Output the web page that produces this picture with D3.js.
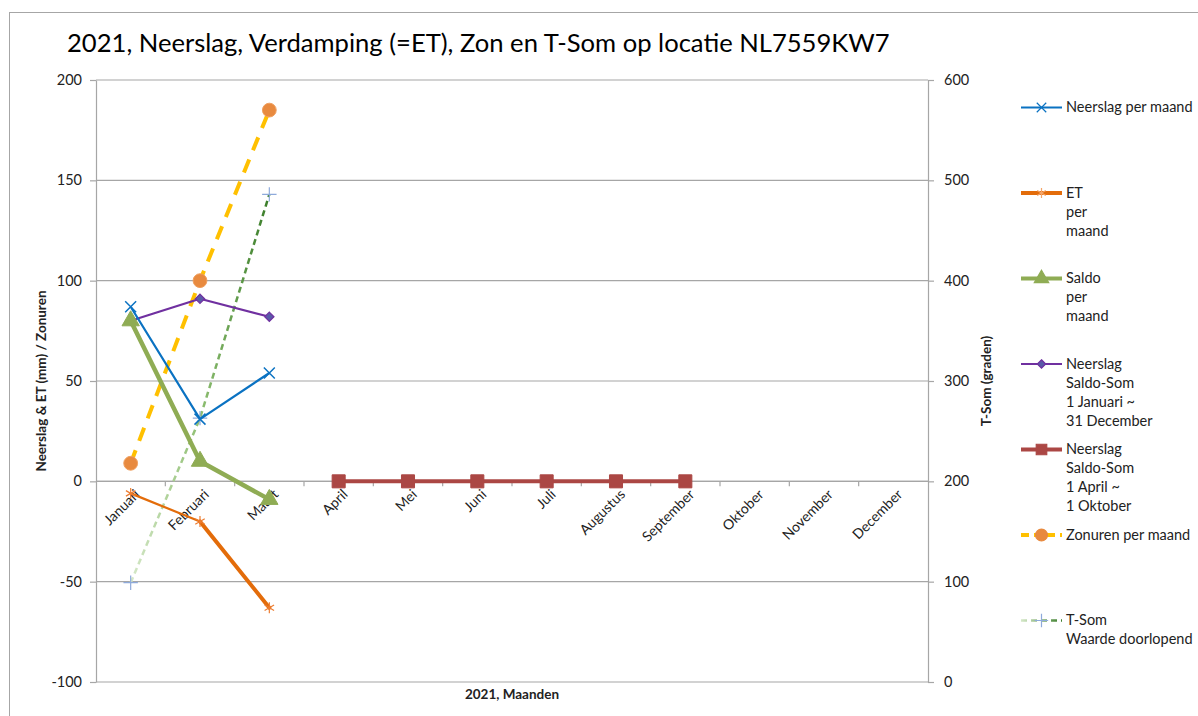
<!DOCTYPE html>
<html>
<head>
<meta charset="utf-8">
<script src="https://cdn.jsdelivr.net/npm/d3@7"></script>
<style>
  body { margin: 0; background: #fff; }
  text { font-family: Lato, "Liberation Sans", sans-serif; fill: #222; }
</style>
</head>
<body>
<div id="chart"></div>
<script>
// data
var months = ["Januari", "Februari", "Maart", "April", "Mei", "Juni", "Juli",
  "Augustus", "September", "Oktober", "November", "December"];
var neerslag = [87, 31, 54];
var et = [-6, -20, -63];
var saldo = [80, 10, -9];
var saldoSomJaar = [80, 91, 82];
var saldoSomZomer = [null, null, null, 0, 0, 0, 0, 0, 0];
var zonuren = [9, 100, 185];
var tSom = [99, 263, 486];
var leftTicks = [-100, -50, 0, 50, 100, 150, 200];
var rightTicks = [0, 100, 200, 300, 400, 500, 600];

var svgWidth = 1198, svgHeight = 716;
var margin = { top: 80, right: 270, bottom: 34, left: 96 };
var chartWidth = svgWidth - margin.left - margin.right;
var chartHeight = svgHeight - margin.top - margin.bottom;

var svg = d3.select("#chart").append("svg")
  .attr("width", svgWidth)
  .attr("height", svgHeight);

// outer frame
svg.append("rect")
  .attr("x", 9.5).attr("y", 12.5)
  .attr("width", 1200).attr("height", 720)
  .attr("fill", "none").attr("stroke", "#a6a6a6");

svg.append("text")
  .attr("x", 67).attr("y", 52)
  .style("font-size", "25.6px")
  .style("fill", "#000")
  .text("2021, Neerslag, Verdamping (=ET), Zon en T-Som op locatie NL7559KW7");

var chartGroup = svg.append("g")
  .attr("transform", `translate(${margin.left}, ${margin.top})`);

var x = d3.scaleBand().domain(months).range([0, chartWidth]);
var cx = function(i) { return x(months[i]) + x.bandwidth() / 2; };
var yLeft = d3.scaleLinear().domain([-100, 200]).range([chartHeight, 0]);
var yRight = d3.scaleLinear().domain([0, 600]).range([chartHeight, 0]);

// gridlines
chartGroup.selectAll(".grid").data(leftTicks).enter().append("line")
  .attr("x1", 0).attr("x2", chartWidth)
  .attr("y1", d => yLeft(d)).attr("y2", d => yLeft(d))
  .attr("stroke", "#a6a6a6").attr("stroke-width", 1.2);

// left axis
var leftAxis = d3.axisLeft(yLeft).tickValues(leftTicks).tickFormat(d => String(d))
  .tickSize(6).tickSizeOuter(0).tickPadding(8);
var gl = chartGroup.append("g").call(leftAxis);
gl.selectAll("path, line").attr("stroke", "#a6a6a6").attr("stroke-width", 1.2);
gl.selectAll("text").style("font-size", "14.5px").style("font-family", "Lato, sans-serif").attr("fill", "#222");

// right axis
var rightAxis = d3.axisRight(yRight).tickValues(rightTicks).tickFormat(d => String(d))
  .tickSize(6).tickSizeOuter(0).tickPadding(10);
var gr = chartGroup.append("g").attr("transform", `translate(${chartWidth}, 0)`).call(rightAxis);
gr.selectAll("path, line").attr("stroke", "#a6a6a6").attr("stroke-width", 1.2);
gr.selectAll("text").style("font-size", "14.5px").style("font-family", "Lato, sans-serif").attr("fill", "#222");

// category axis at zero
var y0 = yLeft(0);
chartGroup.append("line")
  .attr("x1", 0).attr("x2", chartWidth).attr("y1", y0).attr("y2", y0)
  .attr("stroke", "#a6a6a6").attr("stroke-width", 1.2);
chartGroup.selectAll(".xtick").data(months.slice(1)).enter().append("line")
  .attr("x1", d => x(d)).attr("x2", d => x(d))
  .attr("y1", y0).attr("y2", y0 + 5)
  .attr("stroke", "#a6a6a6").attr("stroke-width", 1.2);
chartGroup.selectAll(".xlabel").data(months).enter().append("text")
  .attr("transform", (d, i) => `translate(${cx(i) + 4}, ${y0 + 8}) rotate(-45)`)
  .attr("text-anchor", "end")
  .attr("dy", "0.6em")
  .style("font-size", "14px")
  .text(d => d);

// axis titles
svg.append("text")
  .attr("transform", `translate(46, ${margin.top + chartHeight / 2}) rotate(-90)`)
  .attr("text-anchor", "middle")
  .style("font-size", "13.5px").style("font-weight", "bold")
  .text("Neerslag & ET (mm) / Zonuren");
svg.append("text")
  .attr("transform", `translate(991, ${margin.top + chartHeight / 2}) rotate(-90)`)
  .attr("text-anchor", "middle")
  .style("font-size", "13.5px").style("font-weight", "bold")
  .text("T-Som (graden)");
svg.append("text")
  .attr("x", margin.left + chartWidth / 2).attr("y", 699)
  .attr("text-anchor", "middle")
  .style("font-size", "13.5px").style("font-weight", "bold")
  .text("2021, Maanden");

// gradient for T-Som
var defs = svg.append("defs");
var grad = defs.append("linearGradient").attr("id", "tsomGrad")
  .attr("gradientUnits", "userSpaceOnUse")
  .attr("x1", cx(0)).attr("x2", cx(tSom.length - 1)).attr("y1", 0).attr("y2", 0);
grad.append("stop").attr("offset", "0%").attr("stop-color", "#d5e8c8");
grad.append("stop").attr("offset", "50%").attr("stop-color", "#8fbf72");
grad.append("stop").attr("offset", "100%").attr("stop-color", "#3a7d2a");
var legGrad = defs.append("linearGradient").attr("id", "tsomLeg")
  .attr("gradientUnits", "userSpaceOnUse")
  .attr("x1", 0).attr("x2", 41).attr("y1", 0).attr("y2", 0);
legGrad.append("stop").attr("offset", "0%").attr("stop-color", "#d5e8c8");
legGrad.append("stop").attr("offset", "100%").attr("stop-color", "#3a7d2a");

function pts(values) {
  return values.map((v, i) => [i, v]).filter(d => d[1] !== null);
}
function drawLine(values, yScale, stroke, width, dash) {
  var line = d3.line().x(d => cx(d[0])).y(d => yScale(d[1]));
  chartGroup.append("path")
    .datum(pts(values))
    .attr("d", line)
    .attr("fill", "none")
    .attr("stroke", stroke)
    .attr("stroke-width", width)
    .attr("stroke-linejoin", "round")
    .attr("stroke-dasharray", dash || null);
}
function drawMarkers(values, yScale, symbolType, size, fill, stroke, sw) {
  chartGroup.selectAll(null).data(pts(values)).enter().append("path")
    .attr("transform", d => `translate(${cx(d[0])}, ${yScale(d[1])})`)
    .attr("d", d3.symbol().type(symbolType).size(size))
    .attr("fill", fill)
    .attr("stroke", stroke)
    .attr("stroke-width", sw);
}

// asterisk symbol for ET
var asterisk = {
  draw: function(context, size) {
    var r = Math.sqrt(size) / 2;
    for (var k = 0; k < 3; k++) {
      var a = Math.PI / 2 + k * Math.PI / 3;
      context.moveTo(r * Math.cos(a), r * Math.sin(a));
      context.lineTo(-r * Math.cos(a), -r * Math.sin(a));
    }
  }
};
var diamond = d3.symbolDiamond2 || d3.symbolDiamond;
var plus = d3.symbolPlus || d3.symbolCross2;

// T-Som (right axis)
drawLine(tSom, yRight, "url(#tsomGrad)", 2.5, "6,4");
drawMarkers(tSom, yRight, plus, 70, "none", "#8eaadb", 1.2);

// Zonuren
drawLine(zonuren, yLeft, "#ffc000", 4, "14,10");
drawMarkers(zonuren, yLeft, d3.symbolCircle, 150, "#e88a3f", "#f0a060", 1);

// Neerslag Saldo-Som 1 Jan ~ 31 Dec
drawLine(saldoSomJaar, yLeft, "#7030a0", 2.2);
drawMarkers(saldoSomJaar, yLeft, diamond, 55, "#5a5aa8", "#7030a0", 1.2);

// Saldo
drawLine(saldo, yLeft, "#8fac54", 4.5);
drawMarkers(saldo, yLeft, d3.symbolTriangle, 130, "#8fac54", "#8fac54", 1);

// Neerslag
drawLine(neerslag, yLeft, "#0a72c2", 2.2);
drawMarkers(neerslag, yLeft, d3.symbolX, 80, "none", "#0a72c2", 1.5);

// ET: thin first segment, thick second
var etWidths = [2.2, 4];
d3.range(et.length - 1).forEach(function(i) {
  chartGroup.append("line")
    .attr("x1", cx(i)).attr("y1", yLeft(et[i]))
    .attr("x2", cx(i + 1)).attr("y2", yLeft(et[i + 1]))
    .attr("stroke", "#e36c0a").attr("stroke-width", etWidths[i])
    .attr("stroke-linecap", "round");
});
drawMarkers(et, yLeft, asterisk, 120, "none", "#ed7d31", 1.2);

// Neerslag Saldo-Som 1 Apr ~ 1 Okt
drawLine(saldoSomZomer, yLeft, "#ab4744", 4);
drawMarkers(saldoSomZomer, yLeft, d3.symbolSquare, 170, "#ab4744", "#ab4744", 1);

// legend
var legendItems = [
  { lines: ["Neerslag per maand"], stroke: "#0a72c2", width: 2.2, symbol: d3.symbolX, size: 60, fill: "none", mstroke: "#0a72c2" },
  { lines: ["ET", "per", "maand"], stroke: "#e36c0a", width: 4, symbol: asterisk, size: 100, fill: "none", mstroke: "#f4a468" },
  { lines: ["Saldo", "per", "maand"], stroke: "#8fac54", width: 4, symbol: d3.symbolTriangle, size: 90, fill: "#8fac54", mstroke: "#8fac54" },
  { lines: ["Neerslag", "Saldo-Som", "1 Januari ~", "31 December"], stroke: "#7030a0", width: 2.2, symbol: diamond, size: 45, fill: "#5a5aa8", mstroke: "#7030a0" },
  { lines: ["Neerslag", "Saldo-Som", "1 April ~", "1 Oktober"], stroke: "#ab4744", width: 4, symbol: d3.symbolSquare, size: 110, fill: "#ab4744", mstroke: "#ab4744" },
  { lines: ["Zonuren per maand"], stroke: "#ffc000", width: 4, dash: "8,5", symbol: d3.symbolCircle, size: 110, fill: "#e88a3f", mstroke: "#e88a3f" },
  { lines: ["T-Som", "Waarde doorlopend"], stroke: "url(#tsomLeg)", width: 2.5, dash: "6,4", symbol: plus, size: 60, fill: "none", mstroke: "#8eaadb" }
];
var legend = svg.append("g");
legendItems.forEach(function(item, i) {
  var ly = 107 + i * 85.5;
  var g = legend.append("g").attr("transform", `translate(1021, ${ly})`);
  g.append("path")
    .attr("d", "M0,0.5H41")
    .attr("stroke", item.stroke)
    .attr("stroke-width", item.width)
    .attr("stroke-dasharray", item.dash || null)
    .attr("fill", "none");
  g.append("path")
    .attr("transform", "translate(20.5, 0.5)")
    .attr("d", d3.symbol().type(item.symbol).size(item.size))
    .attr("fill", item.fill)
    .attr("stroke", item.mstroke)
    .attr("stroke-width", 1.2);
  var t = g.append("text").attr("x", 45).attr("y", 5).style("font-size", "14.5px");
  item.lines.forEach(function(s, k) {
    t.append("tspan").attr("x", 45).attr("dy", k === 0 ? 0 : 19).text(s);
  });
});
</script>
</body>
</html>
